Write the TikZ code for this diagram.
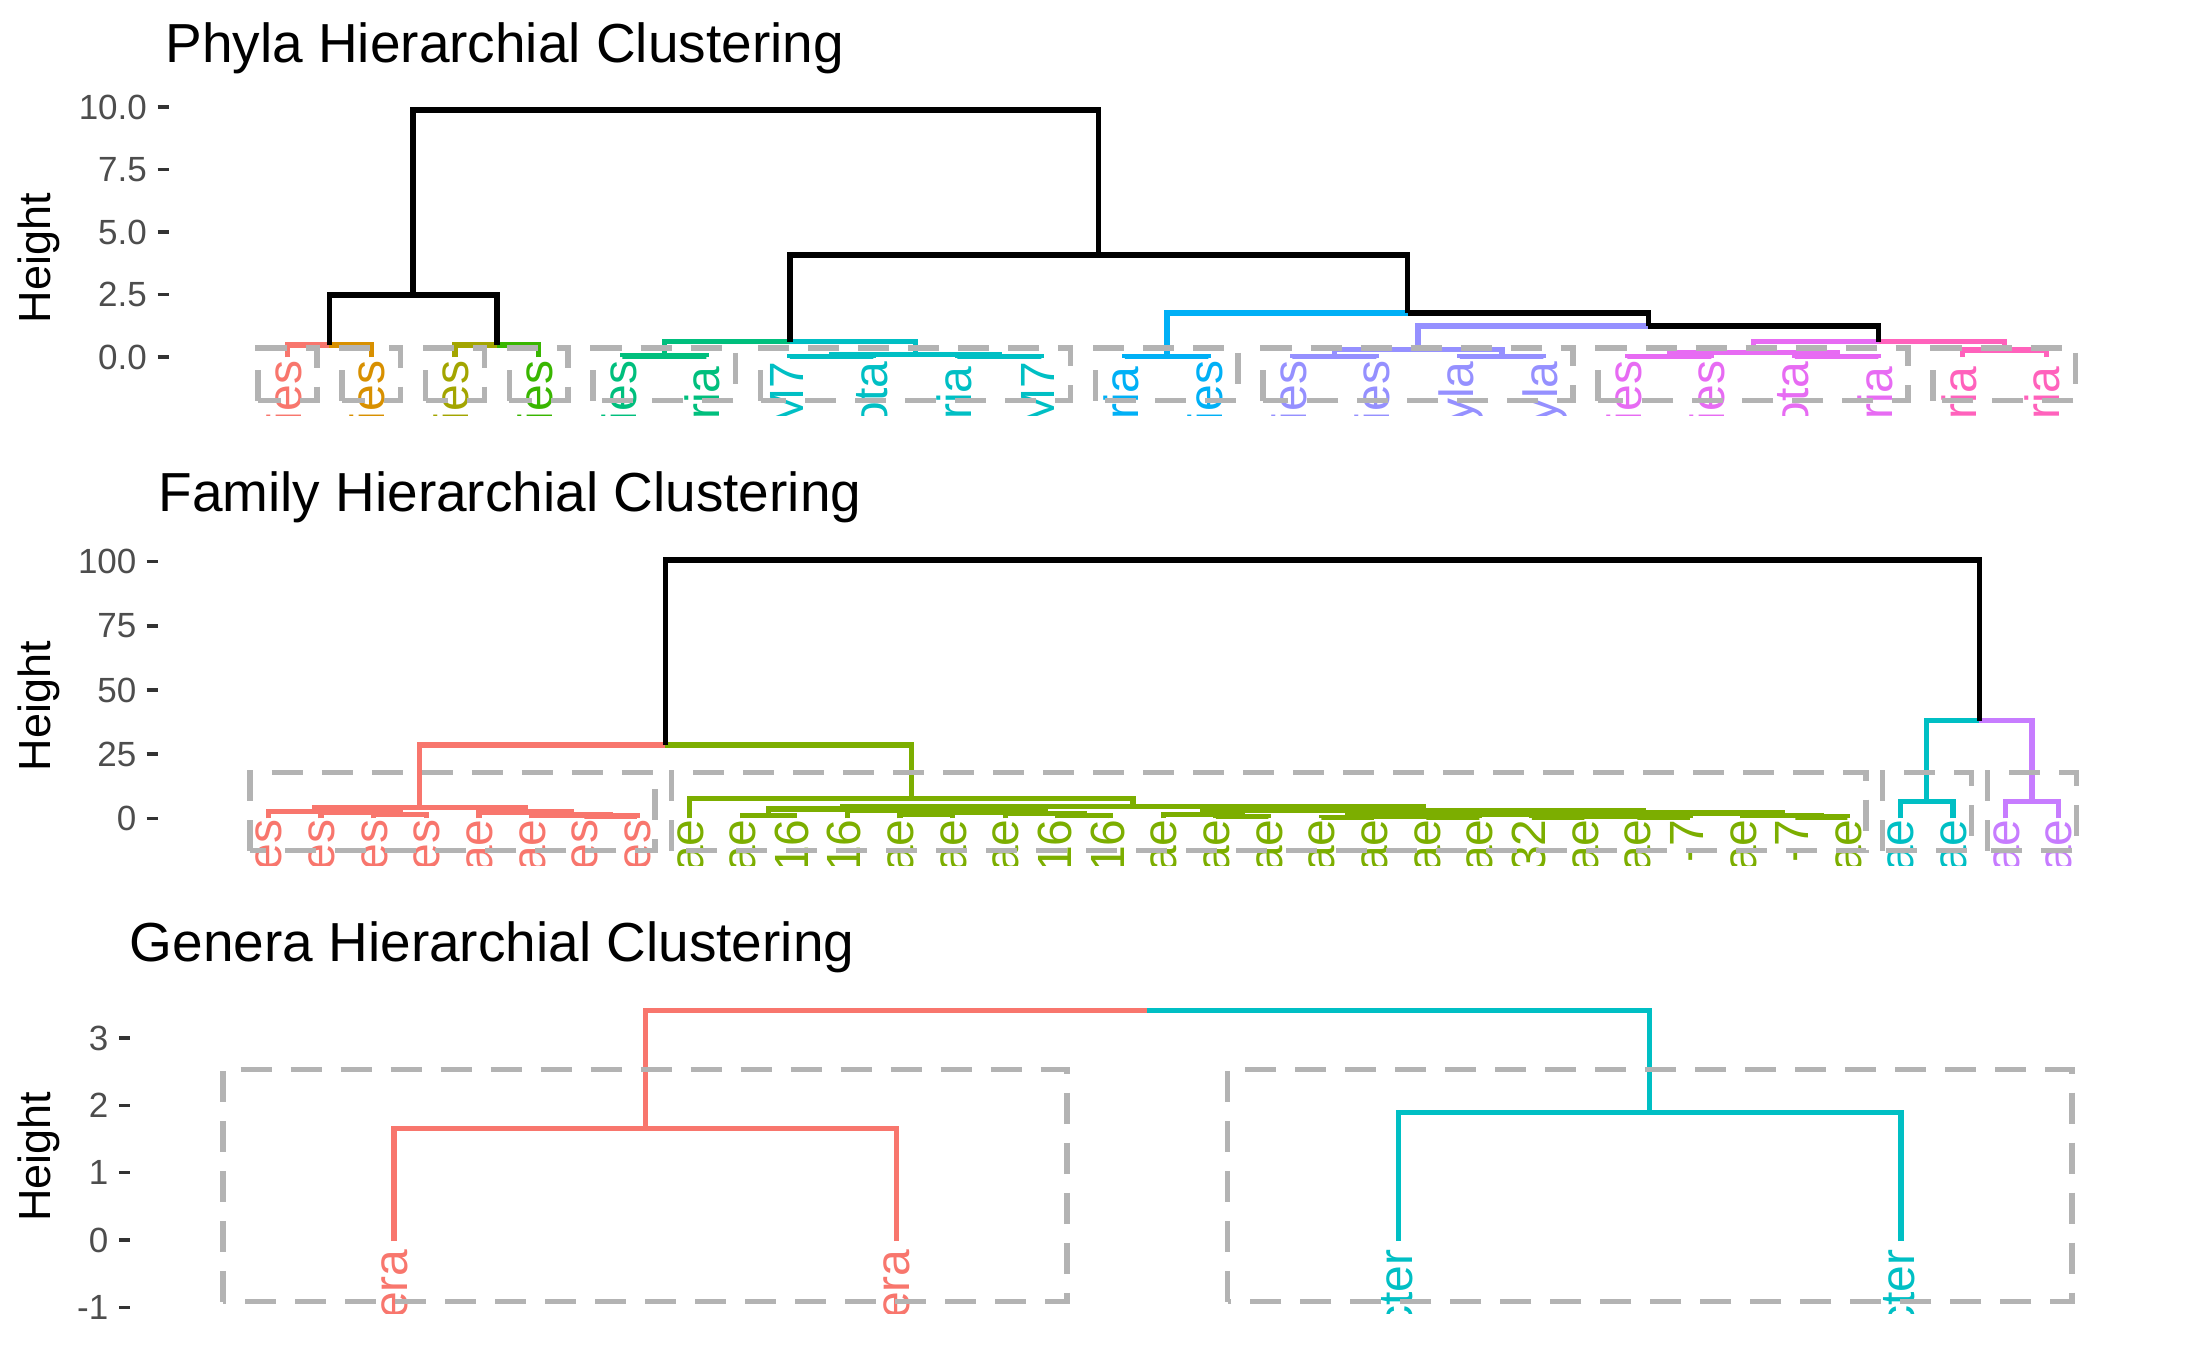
\documentclass[tikz,border=0pt]{standalone}
\usepackage{fontspec}
\setmainfont{Liberation Sans}
\usetikzlibrary{calc}
\definecolor{ka}{HTML}{F8766D}
\definecolor{kb}{HTML}{D89000}
\definecolor{kc}{HTML}{A3A500}
\definecolor{kd}{HTML}{39B600}
\definecolor{ke}{HTML}{00BF7D}
\definecolor{kf}{HTML}{00BFC4}
\definecolor{kg}{HTML}{00B0F6}
\definecolor{kh}{HTML}{9590FF}
\definecolor{ki}{HTML}{E76BF3}
\definecolor{kj}{HTML}{FF62BC}
\definecolor{qa}{HTML}{F8766D}
\definecolor{qb}{HTML}{7CAE00}
\definecolor{qc}{HTML}{00BFC4}
\definecolor{qd}{HTML}{C77CFF}
\definecolor{rgray}{RGB}{179,179,179}
\definecolor{tickc}{HTML}{333333}
\definecolor{tlc}{HTML}{4D4D4D}
\newcommand{\ftitle}{\fontsize{27.5pt}{32pt}\selectfont}
\newcommand{\fht}{\fontsize{22.5pt}{27pt}\selectfont}
\newcommand{\ftick}{\fontsize{17.5pt}{21pt}\selectfont}
\newcommand{\flbl}{\fontsize{24pt}{28pt}\selectfont}
\newcommand{\dnd}[4]{\coordinate (dntmp) at ($(#2)!0.5!(#3)$);\coordinate (#1) at (dntmp |- 0,#4);}
\newcommand{\crect}[4]{\draw[crect] ({#1},{#4}) -- ({#1},{#3}) -- ({#2},{#3}) -- ({#2},{#4}) -- cycle;}
\tikzset{
  dline/.style={line width=2.65pt},
  crect/.style={draw=rgray, line width=2.75pt, dash pattern=on 15.5pt off 9.5pt},
  tickst/.style={draw=tickc, line width=1.75pt},
  ticklbl/.style={anchor=east, inner sep=0pt, text=tlc, font=\ftick},
  ttl/.style={anchor=base west, inner sep=0pt, font=\ftitle},
  htl/.style={rotate=90, inner sep=0pt, font=\fht},
  lbl/.style={rotate=90, anchor=base east, inner sep=0pt, font=\flbl}
}
\begin{document}
\begin{tikzpicture}[x=0.5pt,y=-0.5pt]
\useasboundingbox (0,0) rectangle (2187,1351);
\fill[white] (0,0) rectangle (2187,1351);

% ================= Panel 1: Phyla =================
\node[ttl] (t1) at (165,62) {Phyla Hierarchial Clustering};
\node[htl] (h1) at (38.6,258) {Height};
\foreach \tv/\ty in {10.0/107,7.5/169.5,5.0/232,2.5/294.5,0.0/357} {
  \draw[tickst] (157.5,\ty) -- (168.5,\ty);
  \node[ticklbl] at (147.3,\ty) {\tv};
}
\foreach \ii in {1,...,22} {\coordinate (pa\ii) at ({287.5+83.75*(\ii-1)},357);}
\dnd{an12}{pa1}{pa2}{345}
\dnd{an34}{pa3}{pa4}{345}
\dnd{aL}{an12}{an34}{295}
\dnd{an56}{pa5}{pa6}{356}
\dnd{at78}{pa7}{pa8}{356.5}
\dnd{at910}{pa9}{pa10}{356.5}
\dnd{aT}{at78}{at910}{354.5}
\dnd{aA}{an56}{aT}{341.7}
\dnd{abl}{pa11}{pa12}{356.5}
\dnd{ap1}{pa13}{pa14}{356.5}
\dnd{ap2}{pa15}{pa16}{356.5}
\dnd{aP}{ap1}{ap2}{349.3}
\dnd{am1}{pa17}{pa18}{356.5}
\dnd{am2}{pa19}{pa20}{356.5}
\dnd{aM}{am1}{am2}{352.7}
\dnd{ak}{pa21}{pa22}{350}
\dnd{aD}{aM}{ak}{341.7}
\dnd{aC}{aP}{aD}{326}
\dnd{aB}{abl}{aC}{313}
\dnd{aRt}{aA}{aB}{255}
\dnd{aroot}{aL}{aRt}{110}
\foreach \lc/\ch/\pa in {ka/pa1/an12, kb/pa2/an12, kc/pa3/an34, kd/pa4/an34,
  black/an12/aL, black/an34/aL, black/aL/aroot,
  ke/pa5/an56, ke/pa6/an56, kf/pa7/at78, kf/pa8/at78, kf/pa9/at910, kf/pa10/at910,
  kf/at78/aT, kf/at910/aT, ke/an56/aA, kf/aT/aA, black/aA/aRt,
  kg/pa11/abl, kg/pa12/abl, kg/abl/aB,
  kh/pa13/ap1, kh/pa14/ap1, kh/pa15/ap2, kh/pa16/ap2, kh/ap1/aP, kh/ap2/aP, kh/aP/aC,
  ki/pa17/am1, ki/pa18/am1, ki/pa19/am2, ki/pa20/am2, ki/am1/aM, ki/am2/aM, ki/aM/aD,
  kj/pa21/ak, kj/pa22/ak, kj/ak/aD,
  black/aD/aC, black/aC/aB, black/aB/aRt, black/aRt/aroot} {
  \draw[dline,\lc] (\ch) |- (\pa);
}
\begin{scope}
\clip (0,300) rectangle (2187,415);
\foreach \ii/\lt/\lc/\ly in {1/ies/ka/360.3, 2/ies/kb/360.3, 3/ies/kc/360.3, 4/ies/kd/360.3,
  5/ies/ke/360.3, 6/eria/ke/366, 7/M7/kf/361, 8/ota/kf/361, 9/eria/kf/366, 10/M7/kf/361,
  11/eria/kg/366, 12/ies/kg/360.3, 13/ies/kh/360.3, 14/ies/kh/360.3, 15/yla/kh/361,
  16/yla/kh/361, 17/ies/ki/360.3, 18/ies/ki/360.3, 19/ota/ki/361, 20/eria/ki/366,
  21/eria/kj/366, 22/eria/kj/366} {
  \node[lbl,text=\lc] at ({287.5+83.75*(\ii-1)+13.5},\ly) {\lt};
}
\end{scope}
\foreach \xa/\xb in {1/1,2/2,3/3,4/4,5/6,7/10,11/12,13/16,17/20,21/22} {
  \crect{287.5+83.75*(\xa-1)-29.3}{287.5+83.75*(\xb-1)+29.3}{348}{400.7}
}

% ================= Panel 2: Family =================
\node[ttl] (t2) at (158,511.7) {Family Hierarchial Clustering};
\node[htl] (h2) at (38.6,706) {Height};
\foreach \tv/\ty in {100/561.7,75/625.85,50/690,25/754.15,0/818.3} {
  \draw[tickst] (146.5,\ty) -- (157.5,\ty);
  \node[ticklbl] at (136.8,\ty) {\tv};
}
\foreach \ii in {1,...,35} {\coordinate (pb\ii) at ({268.3+52.65*(\ii-1)},818.3);}
\dnd{br34}{pb3}{pb4}{814.5}
\dnd{br2}{pb2}{br34}{812.5}
\dnd{br1}{pb1}{br2}{811.7}
\dnd{br78}{pb7}{pb8}{816}
\dnd{br6}{pb6}{br78}{815}
\dnd{br5}{pb5}{br6}{812}
\dnd{bR}{br1}{br5}{807.3}
\dnd{ba1}{pb10}{pb11}{815.5}
\dnd{bq1}{pb13}{pb14}{814.5}
\dnd{bq3}{pb16}{pb17}{815.5}
\dnd{bq2}{pb15}{bq3}{813.5}
\dnd{bQ}{bq1}{bq2}{812}
\dnd{ba2}{pb12}{bQ}{810.5}
\dnd{bA}{ba1}{ba2}{809}
\dnd{bb20}{pb19}{pb20}{816.5}
\dnd{bB1}{pb18}{bb20}{814.5}
\dnd{be1}{pb21}{pb22}{817.3}
\dnd{be2}{pb23}{pb24}{817.3}
\dnd{be3}{pb25}{pb26}{817.3}
\dnd{be4}{pb27}{pb28}{817.3}
\dnd{bf1}{be1}{be2}{816}
\dnd{bf2}{be3}{be4}{816}
\dnd{bc1}{bf1}{bf2}{814.5}
\dnd{bd}{pb30}{pb31}{817}
\dnd{bc2}{pb29}{bd}{815.5}
\dnd{bB2}{bc1}{bc2}{813}
\dnd{bB}{bB1}{bB2}{810.5}
\dnd{bgR}{bA}{bB}{806.5}
\dnd{bG}{pb9}{bgR}{798.5}
\dnd{bt}{pb32}{pb33}{801.7}
\dnd{bp}{pb34}{pb35}{801.7}
\dnd{bTP}{bt}{bp}{720.7}
\dnd{bRG}{bR}{bG}{745}
\dnd{broot}{bRG}{bTP}{560}
\foreach \lc/\ch/\pa in {qa/pb1/br1, qa/pb2/br2, qa/pb3/br34, qa/pb4/br34, qa/br34/br2, qa/br2/br1, qa/br1/bR,
  qa/pb5/br5, qa/pb6/br6, qa/pb7/br78, qa/pb8/br78, qa/br78/br6, qa/br6/br5, qa/br5/bR, qa/bR/bRG,
  qb/pb10/ba1, qb/pb11/ba1, qb/pb13/bq1, qb/pb14/bq1, qb/pb16/bq3, qb/pb17/bq3, qb/pb15/bq2, qb/bq3/bq2,
  qb/bq1/bQ, qb/bq2/bQ, qb/pb12/ba2, qb/bQ/ba2, qb/ba1/bA, qb/ba2/bA,
  qb/pb19/bb20, qb/pb20/bb20, qb/pb18/bB1, qb/bb20/bB1,
  qb/pb21/be1, qb/pb22/be1, qb/pb23/be2, qb/pb24/be2, qb/pb25/be3, qb/pb26/be3, qb/pb27/be4, qb/pb28/be4,
  qb/be1/bf1, qb/be2/bf1, qb/be3/bf2, qb/be4/bf2, qb/bf1/bc1, qb/bf2/bc1,
  qb/pb30/bd, qb/pb31/bd, qb/pb29/bc2, qb/bd/bc2, qb/bc1/bB2, qb/bc2/bB2,
  qb/bB1/bB, qb/bB2/bB, qb/bA/bgR, qb/bB/bgR, qb/pb9/bG, qb/bgR/bG, qb/bG/bRG,
  qc/pb32/bt, qc/pb33/bt, qc/bt/bTP, qd/pb34/bp, qd/pb35/bp, qd/bp/bTP,
  black/bRG/broot, black/bTP/broot} {
  \draw[dline,\lc] (\ch) |- (\pa);
}
\begin{scope}
\clip (0,780) rectangle (2187,865);
\foreach \ii/\lt/\lc in {1/es/qa, 2/es/qa, 3/es/qa, 4/es/qa, 5/ae/qa, 6/ae/qa, 7/es/qa, 8/es/qa,
  9/ae/qb, 10/ae/qb, 11/16/qb, 12/16/qb, 13/ae/qb, 14/ae/qb, 15/ae/qb, 16/16/qb, 17/16/qb,
  18/ae/qb, 19/ae/qb, 20/ae/qb, 21/ae/qb, 22/ae/qb, 23/ae/qb, 24/ae/qb, 25/32/qb, 26/ae/qb,
  27/ae/qb, 28/-7/qb, 29/ae/qb, 30/-7/qb, 31/ae/qb,
  32/ae/qc, 33/ae/qc, 34/ae/qd, 35/ae/qd} {
  \node[lbl,text=\lc] at ({268.3+52.65*(\ii-1)+13.5},819) {\lt};
}
\end{scope}
\foreach \xa/\xb in {1/8,9/31,32/33,34/35} {
  \crect{268.3+52.65*(\xa-1)-18.2}{268.3+52.65*(\xb-1)+18.2}{772.5}{850.7}
}

% ================= Panel 3: Genera =================
\node[ttl] (t3) at (129.5,961.7) {Genera Hierarchial Clustering};
\node[htl] (h3) at (38.6,1156.7) {Height};
\foreach \tv/\ty in {3/1038.1,2/1105.4,1/1172.7,0/1240,-1/1307.3} {
  \draw[tickst] (119,\ty) -- (130,\ty);
  \node[ticklbl] at (108.7,\ty) {\tv};
}
\foreach \ii in {1,...,4} {\coordinate (pc\ii) at ({394+502.3*(\ii-1)},1241);}
\dnd{cr}{pc1}{pc2}{1128.3}
\dnd{ct}{pc3}{pc4}{1112.8}
\dnd{croot}{cr}{ct}{1010.7}
\foreach \lc/\ch/\pa in {qa/pc1/cr, qa/pc2/cr, qa/cr/croot, qc/pc3/ct, qc/pc4/ct, qc/ct/croot} {
  \draw[dline,\lc] (\ch) |- (\pa);
}
\begin{scope}
\clip (0,1200) rectangle (2187,1313);
\foreach \ii/\lt/\lc in {1/era/qa, 2/era/qa, 3/cter/qc, 4/cter/qc} {
  \node[lbl,text=\lc] at ({394+502.3*(\ii-1)+13.5},1249) {\lt};
}
\end{scope}
\crect{223}{1067}{1069.3}{1301.7}
\crect{1227.6}{2072}{1069.3}{1301.7}
\end{tikzpicture}
\end{document}
